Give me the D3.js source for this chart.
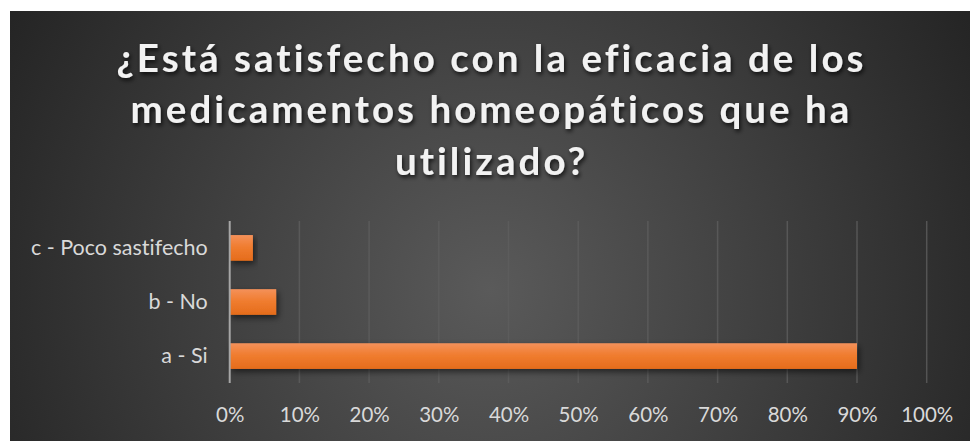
<!DOCTYPE html>
<html>
<head>
<meta charset="utf-8">
<script src="https://cdn.jsdelivr.net/npm/d3@7"></script>
<style>
  html, body { margin: 0; padding: 0; background: #ffffff; }
  svg { display: block; }
  text { font-variant-ligatures: none; font-feature-settings: "liga" 0, "clig" 0, "dlig" 0; }
</style>
</head>
<body>
<svg id="chart" width="970" height="441"></svg>
<script>
// ---- data ----
const titleLines = ["¿Está satisfecho con la eficacia de los", "medicamentos homeopáticos que ha", "utilizado?"];
const categories = ["c - Poco sastifecho", "b - No", "a - Si"];
const values = [0.0333, 0.0667, 0.90];
const tickValues = [0, 0.1, 0.2, 0.3, 0.4, 0.5, 0.6, 0.7, 0.8, 0.9, 1.0];

const svg = d3.select("#chart");
const W = 970, H = 441;
const defs = svg.append("defs");

// background radial gradient
const bg = defs.append("radialGradient").attr("id", "bg")
  .attr("cx", 490).attr("cy", 290).attr("r", 560)
  .attr("gradientUnits", "userSpaceOnUse");
bg.append("stop").attr("offset", "0%").attr("stop-color", "#5a5a5a");
bg.append("stop").attr("offset", "100%").attr("stop-color", "#242424");

const barGrad = defs.append("linearGradient").attr("id", "barGrad")
  .attr("x1", 0).attr("y1", 0).attr("x2", 0).attr("y2", 1);
barGrad.append("stop").attr("offset", "0%").attr("stop-color", "#f4915a");
barGrad.append("stop").attr("offset", "45%").attr("stop-color", "#f07d30");
barGrad.append("stop").attr("offset", "100%").attr("stop-color", "#e56c1b");

const shadow = defs.append("filter").attr("id", "shadow")
  .attr("x", "-10%").attr("y", "-30%").attr("width", "130%").attr("height", "180%");
shadow.append("feDropShadow").attr("dx", 2).attr("dy", 3).attr("stdDeviation", 3)
  .attr("flood-color", "#000").attr("flood-opacity", 0.55);

const tshadow = defs.append("filter").attr("id", "tshadow")
  .attr("x", "-5%").attr("y", "-30%").attr("width", "110%").attr("height", "170%");
tshadow.append("feDropShadow").attr("dx", 1.5).attr("dy", 2.5).attr("stdDeviation", 2)
  .attr("flood-color", "#000").attr("flood-opacity", 0.75);

svg.append("rect").attr("x", 10).attr("y", 11).attr("width", W - 10).attr("height", H - 11)
  .attr("fill", "url(#bg)");

// ---- title ----
const titleFont = "Lato, 'Open Sans', sans-serif";
const baselines = [72, 123, 174.5];
const titleG = svg.append("g").attr("filter", "url(#tshadow)");
const tt = titleG.selectAll("text").data(titleLines).join("text")
  .attr("x", 490).attr("y", (d, i) => baselines[i])
  .attr("text-anchor", "middle")
  .attr("font-family", titleFont).attr("font-weight", 700)
  .attr("font-size", 38.5).attr("fill", "#f2f2f2")
  .text(d => d);
// fit letter spacing so the first line spans ~750px
const natural = tt.nodes()[0].getComputedTextLength();
const ls = Math.max(0, (750 - natural) / (titleLines[0].length));
tt.attr("letter-spacing", ls).attr("x", 490 + ls / 2);

// ---- plot ----
const x = d3.scaleLinear().domain([0, 1]).range([229.7, 926.7]);
const y = d3.scaleBand().domain(categories).range([221, 383]).paddingInner(0.525).paddingOuter(0.26);

// gridlines
svg.append("g").selectAll("line").data(tickValues.filter(v => v > 0)).join("line")
  .attr("x1", d => x(d)).attr("x2", d => x(d))
  .attr("y1", 221).attr("y2", 383)
  .attr("stroke", "#5e5e5e").attr("stroke-width", 1.5).attr("opacity", 0.8);

// bars
svg.append("g").selectAll("rect").data(categories).join("rect")
  .attr("x", x(0))
  .attr("y", d => y(d))
  .attr("width", (d, i) => x(values[i]) - x(0))
  .attr("height", y.bandwidth())
  .attr("fill", "url(#barGrad)")
  .attr("filter", "url(#shadow)");

// vertical axis line
svg.append("line").attr("x1", x(0)).attr("x2", x(0)).attr("y1", 221).attr("y2", 383)
  .attr("stroke", "#a6a6a6").attr("stroke-width", 2);

// category axis
const yAxis = d3.axisLeft(y).tickSize(0).tickPadding(22);
const yg = svg.append("g").attr("transform", `translate(${x(0)},0)`).call(yAxis);
yg.select(".domain").remove();
yg.selectAll("text").attr("font-family", "Lato, sans-serif").attr("font-size", 21.5)
  .attr("fill", "#d9d9d9");

// value axis
const xAxis = d3.axisBottom(x).tickValues(tickValues).tickSize(0).tickPadding(0)
  .tickFormat(d3.format(".0%"));
const xg = svg.append("g").attr("transform", "translate(0,406)").call(xAxis);
xg.select(".domain").remove();
xg.selectAll("text").attr("font-family", "Lato, sans-serif").attr("font-size", 20.5)
  .attr("fill", "#d9d9d9").attr("dy", "0.76em");
</script>
</body>
</html>
